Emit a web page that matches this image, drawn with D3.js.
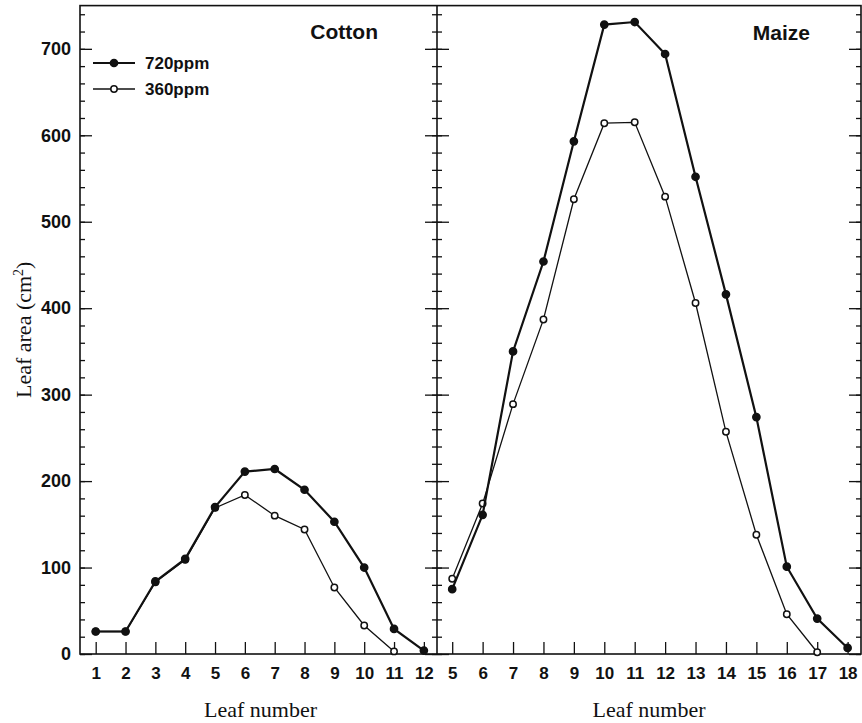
<!DOCTYPE html>
<html>
<head>
  <meta charset="utf-8">
  <title>Leaf area - Cotton and Maize</title>
  <style>
    body { margin: 0; background: #fff; }
    svg { display: block; }
    .tick-label { font-family: "Liberation Sans", Arial, sans-serif; font-weight: bold; font-size: 17px; fill: #111; }
    .ytick-label { font-size: 18px; }
    .axis-title { font-family: "Liberation Serif", "Times New Roman", serif; font-size: 22px; fill: #111; }
    .panel-title { font-family: "Liberation Sans", Arial, sans-serif; font-weight: bold; font-size: 21px; fill: #111; }
    .legend-text { font-family: "Liberation Sans", Arial, sans-serif; font-weight: bold; font-size: 17px; fill: #111; }
  </style>
</head>
<body>
  <svg id="chart"></svg>

  <script src="https://d3js.org/d3.v7.min.js"></script>
  <script>
    // du lieu doc tu hinh
    const cottonLeaves = [1, 2, 3, 4, 5, 6, 7, 8, 9, 10, 11, 12];
    const cotton720 = [26, 26, 84, 110, 170, 211, 214, 190, 153, 100, 29, 4];
    const cotton360 = [26, 26, 83, 109, 169, 184, 160, 144, 77, 33, 3];

    const maizeLeaves = [5, 6, 7, 8, 9, 10, 11, 12, 13, 14, 15, 16, 17, 18];
    const maize720 = [75, 161, 350, 454, 593, 728, 731, 694, 552, 416, 274, 101, 41, 7];
    const maize360 = [87, 174, 289, 387, 526, 614, 615, 529, 406, 257, 138, 46, 2];

    const yMajor = [0, 100, 200, 300, 400, 500, 600, 700];
    const seriesNames = ["720ppm", "360ppm"];

    const width = 862;
    const height = 723;

    const svg = d3.select("#chart")
      .attr("width", width)
      .attr("height", height);

    const y = d3.scaleLinear().domain([0, 750]).range([654, 5.6]);
    const yMinor = d3.range(0, 751, 20);

    const xCotton = d3.scaleLinear().domain([0.474, 12.44]).range([80, 437]);
    const xMaize = d3.scaleLinear().domain([4.5, 18.44]).range([437, 861]);

    const yTop = y(750), yBottom = y(0);

    // khung
    svg.append("rect")
      .attr("x", 80).attr("y", yTop)
      .attr("width", 861 - 80).attr("height", yBottom - yTop)
      .attr("fill", "none").attr("stroke", "#111").attr("stroke-width", 1.6);
    svg.append("line")
      .attr("x1", 437).attr("x2", 437).attr("y1", yTop).attr("y2", yBottom)
      .attr("stroke", "#111").attr("stroke-width", 1.6);

    // ham ve vach tren truc doc
    function yTicks(x0, dir) {
      const g = svg.append("g").attr("transform", `translate(${x0},0)`);
      const axisFn = dir > 0 ? d3.axisRight : d3.axisLeft;
      g.append("g").call(axisFn(y).tickValues(yMinor).tickSize(5).tickFormat(""));
      g.append("g").call(axisFn(y).tickValues(yMajor).tickSize(12).tickFormat(""));
      g.selectAll(".domain").remove();
      g.selectAll("line").attr("stroke", "#111").attr("stroke-width", 1.3);
    }
    yTicks(80, 1);
    yTicks(437, -1);
    yTicks(437, 1);
    yTicks(861, -1);

    // nhan truc y
    const yLab = svg.append("g")
      .attr("transform", "translate(80,0)")
      .call(d3.axisLeft(y).tickValues(yMajor).tickSize(0).tickPadding(9));
    yLab.select(".domain").remove();
    yLab.attr("font-family", null).attr("font-size", null);
    yLab.selectAll("text").attr("class", "tick-label ytick-label");

    // truc x
    function xAxis(x, ticks) {
      const g = svg.append("g").attr("transform", `translate(0,${yBottom})`);
      g.call(d3.axisTop(x).tickValues(ticks).tickSize(12).tickFormat(""));
      g.select(".domain").remove();
      g.selectAll("line").attr("stroke", "#111").attr("stroke-width", 1.3);
      const lab = svg.append("g").attr("transform", `translate(0,${yBottom})`);
      lab.call(d3.axisBottom(x).tickValues(ticks).tickSize(0).tickPadding(13));
      lab.select(".domain").remove();
      lab.attr("font-family", null).attr("font-size", null);
      lab.selectAll("text").attr("class", "tick-label");
    }
    xAxis(xCotton, cottonLeaves);
    xAxis(xMaize, maizeLeaves);

    // tieu de truc
    svg.append("text").attr("class", "axis-title")
      .attr("x", (80 + 437) / 2 + 2).attr("y", 717).attr("text-anchor", "middle")
      .text("Leaf number");
    svg.append("text").attr("class", "axis-title")
      .attr("x", (437 + 861) / 2).attr("y", 717).attr("text-anchor", "middle")
      .text("Leaf number");

    const yt = svg.append("text").attr("class", "axis-title")
      .attr("transform", `translate(31,${(yTop + yBottom) / 2}) rotate(-90)`)
      .attr("text-anchor", "middle");
    yt.append("tspan").text("Leaf area (cm");
    yt.append("tspan").attr("dy", -8).attr("font-size", 14).text("2");
    yt.append("tspan").attr("dy", 8).text(")");

    // ten panel
    svg.append("text").attr("class", "panel-title")
      .attr("x", 378).attr("y", 39).attr("text-anchor", "end").text("Cotton");
    svg.append("text").attr("class", "panel-title")
      .attr("x", 810).attr("y", 40).attr("text-anchor", "end").text("Maize");

    // ve duong + diem
    function drawSeries(x, leaves, vals, filled) {
      const pts = vals.map((v, i) => [leaves[i], v]);
      const line = d3.line().x(d => x(d[0])).y(d => y(d[1]));
      svg.append("path")
        .datum(pts)
        .attr("d", line)
        .attr("fill", "none")
        .attr("stroke", "#111")
        .attr("stroke-width", filled ? 2.2 : 1.3);
      svg.append("g").selectAll("circle")
        .data(pts)
        .enter().append("circle")
        .attr("cx", d => x(d[0]))
        .attr("cy", d => y(d[1]))
        .attr("r", filled ? 3.6 : 3.2)
        .attr("fill", filled ? "#111" : "#fff")
        .attr("stroke", "#111")
        .attr("stroke-width", 1.5);
    }
    drawSeries(xCotton, cottonLeaves, cotton360, false);
    drawSeries(xCotton, cottonLeaves, cotton720, true);
    drawSeries(xMaize, maizeLeaves, maize360, false);
    drawSeries(xMaize, maizeLeaves, maize720, true);

    // chu thich
    const legend = svg.append("g");
    seriesNames.forEach((name, i) => {
      const ly = 63 + i * 26;
      const filled = i === 0;
      legend.append("line")
        .attr("x1", 93).attr("x2", 135).attr("y1", ly).attr("y2", ly)
        .attr("stroke", "#111").attr("stroke-width", filled ? 2.2 : 1.3);
      legend.append("circle")
        .attr("cx", 114).attr("cy", ly).attr("r", filled ? 3.6 : 3.2)
        .attr("fill", filled ? "#111" : "#fff")
        .attr("stroke", "#111").attr("stroke-width", 1.5);
      legend.append("text").attr("class", "legend-text")
        .attr("x", 145).attr("y", ly + 6).text(name);
    });
  </script>
</body>
</html>
